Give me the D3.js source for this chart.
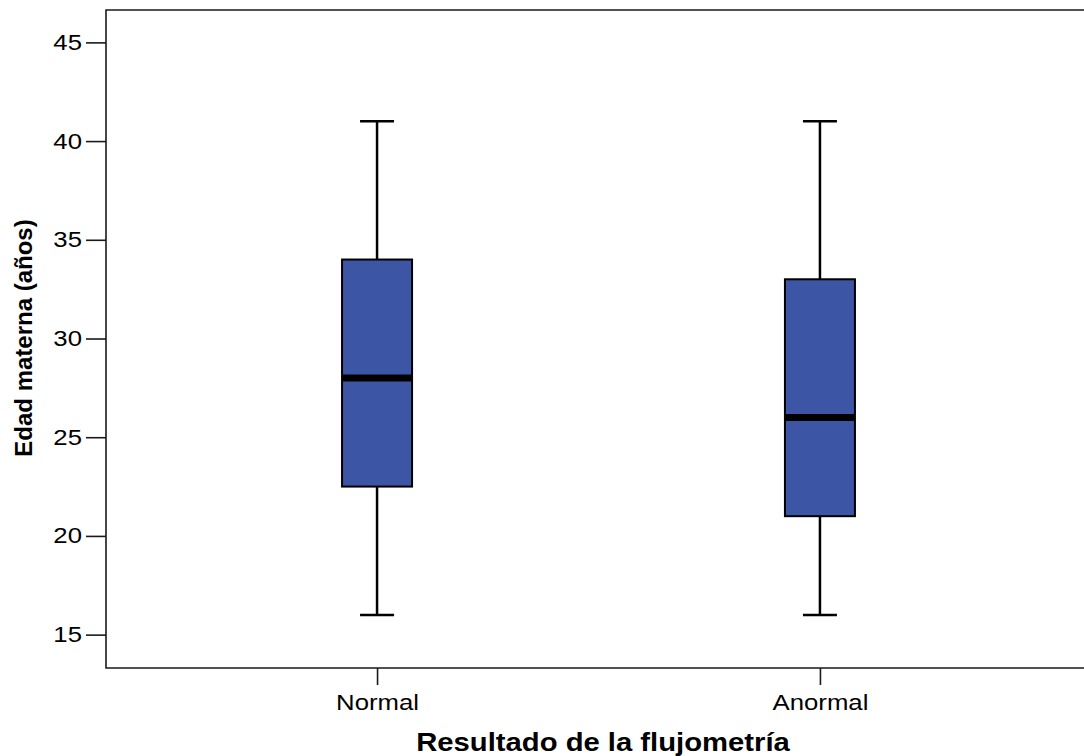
<!DOCTYPE html>
<html>
<head>
<meta charset="utf-8">
<script src="https://cdn.jsdelivr.net/npm/d3@7"></script>
<style>
  body { margin: 0; background: #fff; }
  svg { display: block; }
  text { font-family: "Liberation Sans", Arial, sans-serif; fill: #000; }
</style>
</head>
<body>
<svg id="chart" width="1084" height="756"></svg>
<script>
// ---- data ----
const categories = ["Normal", "Anormal"];
const whiskerLow = [16, 16];
const q1 = [22.5, 21];
const medians = [28, 26];
const q3 = [34, 33];
const whiskerHigh = [41, 41];
const yTicks = [15, 20, 25, 30, 35, 40, 45];
const xTitle = "Resultado de la flujometría";
const yTitle = "Edad materna (años)";

// ---- layout ----
const plotLeft = 106, plotRight = 1084, plotTop = 10, plotBottom = 668;
const sx = 1.17; // horizontal text stretch seen in reference
const boxW = 70, capW = 34;
const fillColor = "#3c56a5";

const svg = d3.select("#chart");

const x = d3.scalePoint().domain(categories).range([plotLeft, 1091]).padding(0.612);
const y = d3.scaleLinear().domain([13.31, 46.64]).range([plotBottom, plotTop]);

// frame (top, left, bottom lines)
svg.append("path")
  .attr("d", `M${plotRight},${plotTop}H${plotLeft}V${plotBottom}H${plotRight}`)
  .attr("fill", "none").attr("stroke", "#1a1a1a").attr("stroke-width", 1.6);

// y axis
const yAxis = svg.append("g")
  .attr("transform", `translate(${plotLeft},0)`)
  .call(d3.axisLeft(y).tickValues(yTicks).tickSize(20).tickFormat(d3.format("d")));
yAxis.select(".domain").remove();
yAxis.selectAll(".tick line").attr("stroke", "#1a1a1a").attr("stroke-width", 1.6);
yAxis.selectAll(".tick text")
  .attr("x", -24 / sx)
  .attr("transform", `scale(${sx},1)`)
  .style("font-size", "22px");

// x axis
const xAxis = svg.append("g")
  .attr("transform", `translate(0,${plotBottom})`)
  .call(d3.axisBottom(x).tickSize(17).tickPadding(9));
xAxis.select(".domain").remove();
xAxis.selectAll(".tick line").attr("stroke", "#1a1a1a").attr("stroke-width", 1.6);
xAxis.selectAll(".tick text")
  .attr("transform", `scale(${sx},1)`)
  .style("font-size", "22px");

// boxes
const data = categories.map((c, i) => ({
  c, lo: whiskerLow[i], q1: q1[i], med: medians[i], q3: q3[i], hi: whiskerHigh[i]
}));
const g = svg.append("g").selectAll("g").data(data).join("g");

// whisker stems
g.append("line")
  .attr("x1", d => x(d.c)).attr("x2", d => x(d.c))
  .attr("y1", d => y(d.hi)).attr("y2", d => y(d.q3))
  .attr("stroke", "#000").attr("stroke-width", 2.5);
g.append("line")
  .attr("x1", d => x(d.c)).attr("x2", d => x(d.c))
  .attr("y1", d => y(d.q1)).attr("y2", d => y(d.lo))
  .attr("stroke", "#000").attr("stroke-width", 2.5);
// caps
g.append("line")
  .attr("x1", d => x(d.c) - capW / 2).attr("x2", d => x(d.c) + capW / 2)
  .attr("y1", d => y(d.hi)).attr("y2", d => y(d.hi))
  .attr("stroke", "#000").attr("stroke-width", 2.5);
g.append("line")
  .attr("x1", d => x(d.c) - capW / 2).attr("x2", d => x(d.c) + capW / 2)
  .attr("y1", d => y(d.lo)).attr("y2", d => y(d.lo))
  .attr("stroke", "#000").attr("stroke-width", 2.5);
// box
g.append("rect")
  .attr("x", d => x(d.c) - boxW / 2).attr("width", boxW)
  .attr("y", d => y(d.q3)).attr("height", d => y(d.q1) - y(d.q3))
  .attr("fill", fillColor).attr("stroke", "#000").attr("stroke-width", 2);
// median
g.append("line")
  .attr("x1", d => x(d.c) - boxW / 2 + 1).attr("x2", d => x(d.c) + boxW / 2 - 1)
  .attr("y1", d => y(d.med)).attr("y2", d => y(d.med))
  .attr("stroke", "#000").attr("stroke-width", 7);

// axis titles
svg.append("text")
  .attr("transform", `translate(603,751) scale(${sx},1)`)
  .attr("text-anchor", "middle")
  .style("font-size", "25px").style("font-weight", "bold")
  .text(xTitle);

svg.append("text")
  .attr("transform", `translate(32,338) rotate(-90)`)
  .attr("text-anchor", "middle")
  .style("font-size", "24px").style("font-weight", "bold")
  .text(yTitle);
</script>
</body>
</html>
